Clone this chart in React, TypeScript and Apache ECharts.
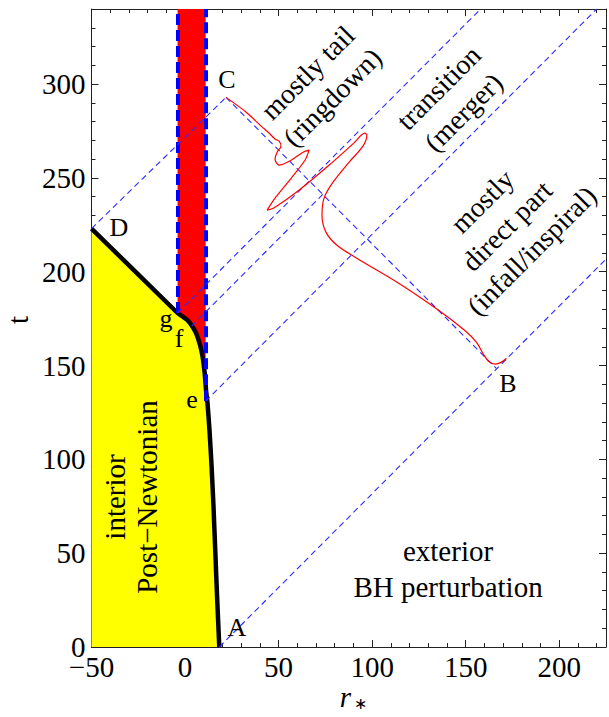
import React, { useEffect, useRef } from "react";
import * as echarts from "echarts";

const xRange = [-50, 225];
const yRange = [0, 340];
const majorStep = 50;
const minorStep = 10;
const xTickLabels = [-50, 0, 50, 100, 150, 200];
const yTickLabels = [0, 50, 100, 150, 200, 250, 300];

// interior / exterior boundary (D -> g -> f -> e -> A)
const boundaryR = [-50, -4, -1.5, 1, 3.5, 6, 8, 9.4, 10.5, 11.3, 12, 13.1, 14.2, 15.2, 16.2, 17.2, 18.3];
const boundaryT = [223, 178, 176.3, 174.5, 171.5, 167, 161, 154.6, 146, 136, 130, 115, 96, 75, 50, 25, 0];

// red strip
const stripR = [-4, 11];
const stripT = [0, 340];
const stripEdgeBottomT = [178, 131];

// light rays (start / end)
const rayR0 = [-50, 21.9, 18.3, -4, 3.5, 11];
const rayT0 = [223, 292.9, 0, 178, 171, 131];
const rayR1 = [21.9, 166.5, 225, 158, 73.6, 220];
const rayT1 = [292.9, 148.3, 206.7, 340, 241.2, 340];

// waveform drawn along C-B
const waveR = [21.9, 32.7, 40.7, 44.9, 48.1, 50.3, 51.3, 49.2, 48.1, 50.3, 56.7, 63.1, 66.3, 64.1, 56.7, 48.1, 43.9, 48.1, 60.9, 76.9, 90.2, 96.1, 97.2, 95.0, 87.6, 79.1, 74.3, 73.2, 75.3, 81.2, 91.8, 114.2, 135.5, 149.4, 155.8, 159.5, 162.2, 165.9, 169.1, 171.8];
const waveT = [292.9, 285.0, 277.6, 273.9, 270.7, 269.6, 266.9, 263.7, 260.0, 256.8, 259.4, 263.7, 264.8, 259.4, 249.8, 239.2, 232.8, 234.4, 243.4, 256.7, 268.5, 273.8, 272.7, 266.8, 258.3, 247.7, 239.2, 230.1, 221.1, 214.1, 207.2, 193.9, 179.5, 168.8, 162.4, 156.0, 152.3, 150.7, 151.8, 153.9];

const SERIF = '"Liberation Serif", "Times New Roman", serif';
const FRAME = "#222";

function fmt(v: number) {
  return v < 0 ? "\u2212" + String(-v) : String(v);
}

function axis(dim: "x" | "y", position: string, step: number, tickLen: number, labels: boolean, line: boolean, list: number[]) {
  const range = dim === "x" ? xRange : yRange;
  return {
    type: "value",
    position,
    min: range[0],
    max: range[1],
    interval: step,
    gridIndex: 0,
    axisLine: { show: line, onZero: false, lineStyle: { color: FRAME, width: 1 } },
    axisTick: { show: true, inside: true, length: tickLen, lineStyle: { color: FRAME, width: 1 } },
    axisLabel: {
      show: labels,
      showMinLabel: true,
      showMaxLabel: true,
      margin: dim === "x" ? 5 : 6,
      color: "#000",
      fontFamily: SERIF,
      fontSize: 29,
      formatter: (v: number) => (list.indexOf(v) >= 0 ? fmt(v) : ""),
    },
    splitLine: { show: false },
  };
}

function txt(text: string, x: number, y: number, size: number, rotation = 0, lineHeight = 0, extra: any = {}) {
  return {
    type: "text",
    x,
    y,
    rotation,
    silent: true,
    z: 100,
    style: {
      text,
      fill: "#000",
      fontFamily: SERIF,
      fontSize: size,
      lineHeight: lineHeight || size,
      align: "center",
      verticalAlign: "middle",
      ...extra,
    },
  };
}

export default function App() {
  const ref = useRef<HTMLDivElement>(null);
  useEffect(() => {
    const chart = echarts.init(ref.current!, null, { renderer: "svg" });
    const boundary = boundaryR.map((r, i) => [r, boundaryT[i]]);
    const wave = waveR.map((r, i) => [r, waveT[i]]);
    const rays = rayR0.map((r, i) => ({ coords: [[r, rayT0[i]], [rayR1[i], rayT1[i]]] }));
    const edges = stripR.map((r, i) => ({ coords: [[r, stripEdgeBottomT[i]], [r, stripT[1]]] }));

    const option: any = {
      animation: false,
      grid: { left: 91.5, top: 9, width: 515.5, height: 638 },
      xAxis: [
        axis("x", "bottom", majorStep, 7, true, true, xTickLabels),
        axis("x", "bottom", minorStep, 4, false, false, []),
        axis("x", "top", majorStep, 7, false, true, []),
        axis("x", "top", minorStep, 4, false, false, []),
      ],
      yAxis: [
        axis("y", "left", majorStep, 7, true, true, yTickLabels),
        axis("y", "left", minorStep, 4, false, false, []),
        axis("y", "right", majorStep, 7, false, true, []),
        axis("y", "right", minorStep, 4, false, false, []),
      ],
      series: [
        {
          type: "custom",
          z: 1,
          silent: true,
          xAxisIndex: 0,
          yAxisIndex: 0,
          data: [[stripR[0], stripT[0], stripR[1], stripT[1]]],
          encode: { x: [0, 2], y: [1, 3] },
          renderItem: (params: any, api: any) => {
            const p0 = api.coord([api.value(0), api.value(1)]);
            const p1 = api.coord([api.value(2), api.value(3)]);
            return {
              type: "rect",
              shape: { x: p0[0], y: p1[1], width: p1[0] - p0[0], height: p0[1] - p1[1] },
              style: { fill: "#ff0000" },
            };
          },
        },
        {
          type: "line",
          z: 3,
          silent: true,
          xAxisIndex: 0,
          yAxisIndex: 0,
          data: boundary,
          symbol: "none",
          smooth: 0.2,
          lineStyle: { color: "#000", width: 4.5 },
          areaStyle: { color: "#ffff00", opacity: 1 },
        },
        {
          type: "lines",
          coordinateSystem: "cartesian2d",
          z: 4,
          silent: true,
          xAxisIndex: 0,
          yAxisIndex: 0,
          data: edges,
          lineStyle: { color: "#0000ff", width: 4, type: [11, 5], opacity: 1 },
        },
        {
          type: "lines",
          coordinateSystem: "cartesian2d",
          z: 5,
          silent: true,
          xAxisIndex: 0,
          yAxisIndex: 0,
          data: rays,
          lineStyle: { color: "#2a2aff", width: 1.1, type: [6, 4], opacity: 1 },
        },
        {
          type: "line",
          z: 6,
          silent: true,
          xAxisIndex: 0,
          yAxisIndex: 0,
          data: wave,
          symbol: "none",
          smooth: 0.3,
          lineStyle: { color: "#ff0000", width: 1.2 },
        },
      ],
      graphic: [
        txt("C", 227, 79, 26),
        txt("D", 119, 227, 26),
        txt("B", 508, 383, 26),
        txt("A", 237, 627, 26),
        txt("e", 192, 399, 26),
        txt("f", 179, 338, 26),
        txt("g", 166, 318, 26),
        txt("mostly tail\n(ringdown)", 320, 85, 28, Math.PI / 4, 35),
        txt("transition\n(merger)", 451, 100, 28, Math.PI / 4, 35),
        txt("mostly\ndirect part\n(infall/inspiral)", 507, 226, 28, Math.PI / 4, 35),
        txt("interior\nPost\u2212Newtonian", 131, 497, 29, Math.PI / 2, 32),
        txt("exterior\nBH perturbation", 448, 569, 29, 0, 36),
        txt("t", 18, 320, 29, Math.PI / 2),
        txt("r", 345.5, 697, 29, 0, 0, { fontStyle: "italic" }),
        txt("\u2217", 360, 703, 16),
      ],
    };
    chart.setOption(option);
    return () => chart.dispose();
  }, []);
  return (
    <div
      ref={ref}
      style={{ position: "fixed", left: 0, top: 0, width: 609, height: 717, background: "#fff" }}
    />
  );
}
